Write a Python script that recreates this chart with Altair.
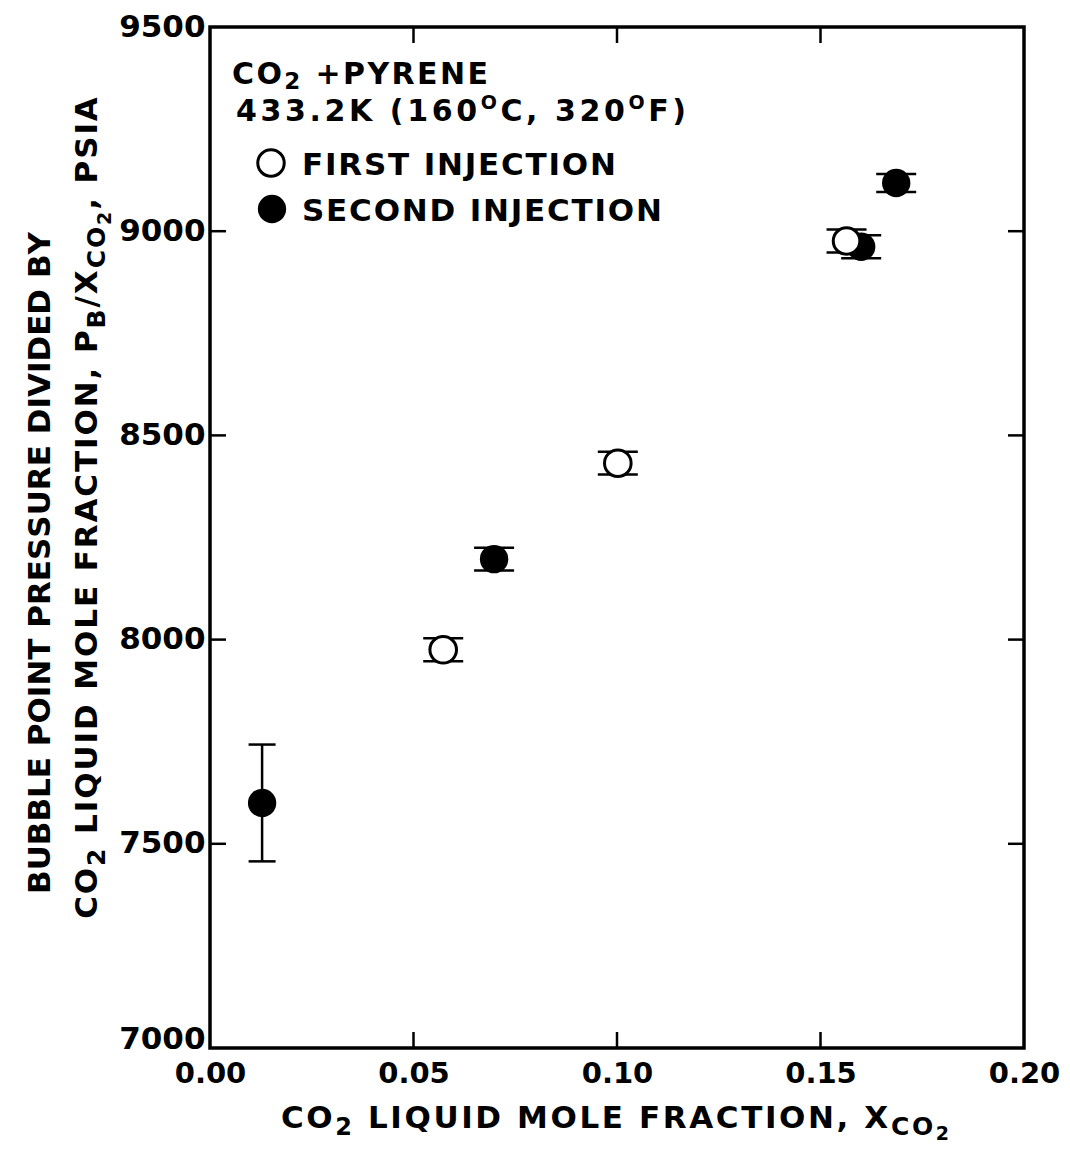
import altair as alt
import pandas as pd

# ---------------- data ----------------
first_x = [0.0573, 0.1002, 0.1564]
first_y = [7975, 8432, 8976]
first_err = [28, 28, 28]

second_x = [0.0128, 0.0698, 0.1600, 0.1686]
second_y = [7600, 8197, 8962, 9118]
second_err = [143, 28, 28, 22]

x_ticks = [0.00, 0.05, 0.10, 0.15, 0.20]
y_ticks = [7000, 7500, 8000, 8500, 9000, 9500]
x_inner_ticks = [0.05, 0.10, 0.15]
y_inner_ticks = [7500, 8000, 8500, 9000]

W, H = 814, 1021
FONT = "DejaVu Sans"

first = pd.DataFrame({"x": first_x, "y": first_y, "err": first_err})
first["lo"] = first["y"] - first["err"]
first["hi"] = first["y"] + first["err"]
second = pd.DataFrame({"x": second_x, "y": second_y, "err": second_err})
second["lo"] = second["y"] - second["err"]
second["hi"] = second["y"] + second["err"]

xscale = alt.Scale(domain=[0, 0.2], nice=False, zero=False)
yscale = alt.Scale(domain=[7000, 9500], nice=False, zero=False)
xaxis = alt.Axis(values=x_ticks, format=".2f", grid=False, domain=False, ticks=False,
                 labelPadding=11, labelFont=FONT, labelFontWeight="bold", labelFontSize=29,
                 labelColor="black", title=None, labelFlush=False)
yaxis = alt.Axis(values=y_ticks, format="d", grid=False, domain=False, ticks=False,
                 labelPadding=5, labelFont=FONT, labelFontWeight="bold", labelFontSize=31,
                 labelColor="black", title=None, labelFlush=False,
                 labelBaseline=alt.condition("datum.value == 7000",
                                             alt.value("alphabetic"), alt.value("middle")))


def X(field):
    return alt.X(field, type="quantitative", scale=xscale, axis=xaxis)


def Y(field):
    return alt.Y(field, type="quantitative", scale=yscale, axis=yaxis)


layers = []

# inner ticks (mirrored on all four sides)
xt = pd.DataFrame({"x": x_inner_ticks})
yt = pd.DataFrame({"y": y_inner_ticks})
TL = 16
layers.append(alt.Chart(xt).mark_rule(color="black", strokeWidth=2.5, opacity=1).encode(
    x=X("x"), y=alt.value(H), y2=alt.value(H - TL)))
layers.append(alt.Chart(xt).mark_rule(color="black", strokeWidth=2.5, opacity=1).encode(
    x=X("x"), y=alt.value(0), y2=alt.value(TL)))
layers.append(alt.Chart(yt).mark_rule(color="black", strokeWidth=2.5, opacity=1).encode(
    y=Y("y"), x=alt.value(0), x2=alt.value(TL)))
layers.append(alt.Chart(yt).mark_rule(color="black", strokeWidth=2.5, opacity=1).encode(
    y=Y("y"), x=alt.value(W), x2=alt.value(W - TL)))


def errbars(df):
    out = []
    out.append(alt.Chart(df).mark_rule(color="black", strokeWidth=2.5, opacity=1).encode(
        x=X("x"), y=Y("lo"), y2="hi"))
    cap_size = alt.condition(alt.datum.err > 100, alt.value(27), alt.value(40))
    for f in ["lo", "hi"]:
        out.append(alt.Chart(df).mark_tick(color="black", thickness=2.5, orient="horizontal",
                                           opacity=1).encode(
            x=X("x"), y=Y(f), size=cap_size))
    return out


# second injection (filled) drawn first, first injection (open) on top
layers += errbars(second)
layers.append(alt.Chart(second).mark_point(shape="circle", filled=True, color="black",
                                            size=804, opacity=1).encode(x=X("x"), y=Y("y")))
layers += errbars(first)
layers.append(alt.Chart(first).mark_point(shape="circle", filled=True, fill="white",
                                           stroke="black", strokeWidth=3, size=707,
                                           opacity=1).encode(x=X("x"), y=Y("y")))

# ---------------- text helpers (letter-spaced runs with sub/superscripts) ----------------
WID = {" ": .348, "A": .774, "B": .762, "C": .734, "D": .830, "E": .683, "F": .683,
       "I": .372, "J": .372, "K": .776, "L": .637, "M": .996, "N": .837, "O": .850,
       "P": .733, "Q": .850, "R": .770, "S": .720, "T": .682, "U": .812, "V": .774,
       "X": .774, "Y": .724, ".": .381, ",": .381, "(": .458, ")": .458, "/": .364,
       "+": .838}
for d in "0123456789":
    WID[d] = .696


def text_run(pieces, x, y, angle=0, anchor="left", ls=0.0):
    """pieces: list of (text, size, shift); shift moves the baseline down (text frame)."""
    rows = []
    along = 0.0
    for t, s, shift in pieces:
        for ch in t:
            rows.append({"ch": ch, "fs": s, "along": along, "shift": shift})
            along += WID.get(ch, .7) * s + ls
    total = along - ls
    start = -total / 2 if anchor == "center" else 0.0
    recs = []
    for r in rows:
        if r["ch"] == " ":
            continue
        a = start + r["along"]
        if angle == 270:
            px, py = x + r["shift"], y - a
        else:
            px, py = x + a, y + r["shift"]
        recs.append({"ch": r["ch"], "fs": r["fs"], "px": px, "py": py})
    df = pd.DataFrame(recs)
    return [alt.Chart(df).mark_text(font=FONT, fontWeight="bold", color="black",
                                    align="left", baseline="alphabetic", angle=angle).encode(
        x=alt.X("px:Q", scale=None, axis=None),
        y=alt.Y("py:Q", scale=None, axis=None),
        size=alt.Size("fs:Q", scale=None, legend=None),
        text="ch:N")]


# x axis title
layers += text_run([("CO", 31, 0), ("2", 24, 7), (" LIQUID MOLE FRACTION, X", 31, 0),
                    ("CO", 25, 7), ("2", 19, 12)], 405, 1101, anchor="center", ls=2.6)

# y axis title (two rotated lines)
layers += text_run([("BUBBLE POINT PRESSURE DIVIDED BY", 31, 0)], -160, 536,
                   angle=270, anchor="center", ls=0.0)
layers += text_run([("CO", 31, 0), ("2", 25, 8), (" LIQUID MOLE FRACTION, P", 31, 0),
                    ("B", 25, 8), ("/X", 31, 0), ("CO", 25, 8), ("2", 19, 14),
                    (", PSIA", 31, 0)], -113, 481, angle=270, anchor="center", ls=1.9)

# annotation inside plot
layers += text_run([("CO", 30, 0), ("2", 23, 5), (" +PYRENE", 30, 0)], 22, 57, ls=2.4)
layers += text_run([("433.2K (160", 30, 0), ("O", 19, -12), ("C, 320", 30, 0),
                    ("O", 19, -12), ("F)", 30, 0)], 26, 94, ls=3.6)

# legend
one = pd.DataFrame({"a": [0]})
layers.append(alt.Chart(one).mark_point(shape="circle", filled=True, fill="white", stroke="black",
                                         strokeWidth=3, size=700, opacity=1).encode(
    x=alt.value(61), y=alt.value(136)))
layers.append(alt.Chart(one).mark_point(shape="circle", filled=True, color="black",
                                         size=800, opacity=1).encode(
    x=alt.value(62), y=alt.value(182)))
layers += text_run([("FIRST INJECTION", 31, 0)], 92, 148, ls=1.8)
layers += text_run([("SECOND INJECTION", 31, 0)], 92, 194, ls=1.8)

chart = alt.layer(*layers).properties(
    width=W, height=H,
    background="white",
    autosize=alt.AutoSizeParams(type="none"),
    padding={"left": 202, "top": 19, "right": 38, "bottom": 96},
).configure_view(stroke="black", strokeWidth=3.5)

chart.save("out.html", embed_options={"renderer": "svg", "actions": False})
